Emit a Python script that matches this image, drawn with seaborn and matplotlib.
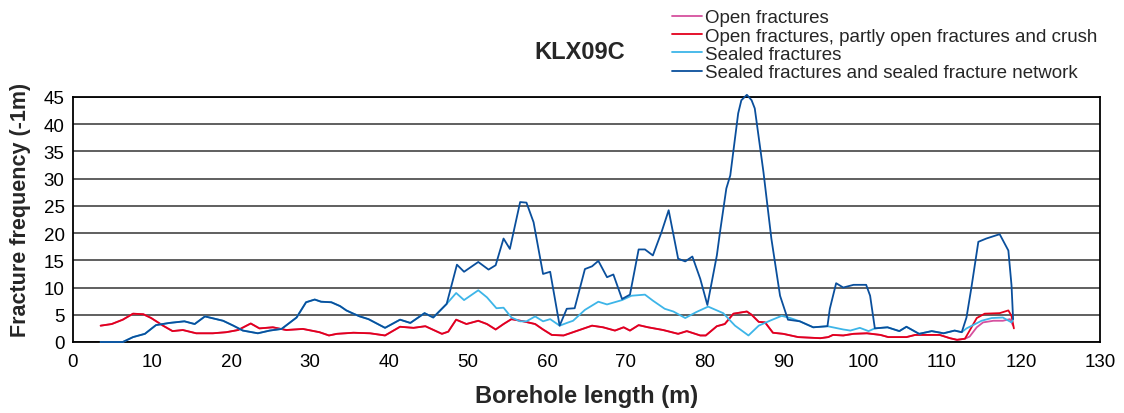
import numpy as np
import pandas as pd
import matplotlib as mpl
mpl.use('Agg')
import matplotlib.pyplot as plt
import seaborn as sns

sns.set_theme(style='white')
plt.rcParams['font.family'] = ['Liberation Sans', 'DejaVu Sans']

# borehole length (m) / fracture frequency (1/m)
network_depth = [3.5, 6.3, 7.6, 9.1, 10.5, 12.2, 14.1, 15.4, 16.7, 19.0, 20.3, 21.5, 23.4, 24.9,
                 26.4, 28.3, 29.5, 30.6, 31.4, 32.7, 33.8, 34.6, 35.5, 36.3, 37.4, 39.5, 41.4,
                 42.7, 44.5, 45.6, 47.3, 48.6, 49.5, 51.3, 52.6, 53.5, 54.5, 55.3, 56.6, 57.4,
                 58.3, 59.5, 60.4, 61.6, 62.5, 63.5, 64.8, 65.7, 66.5, 67.6, 68.4, 69.5, 70.5,
                 71.6, 72.4, 73.4, 74.5, 75.4, 76.6, 77.5, 78.4, 79.4, 80.3, 81.5, 81.9, 82.7,
                 83.2, 84.2, 84.6, 85.3, 85.9, 86.3, 87.4, 88.4, 89.5, 90.5, 92.0, 93.7, 95.5,
                 95.8, 96.6, 97.5, 98.8, 100.4, 100.9, 101.5, 103.1, 104.6, 105.5, 107.1, 108.7,
                 110.2, 111.6, 112.5, 113.1, 113.7, 114.6, 115.6, 117.3, 118.4, 118.8, 119.0]
network_freq = [0.0, 0.0, 0.9, 1.5, 3.1, 3.5, 3.8, 3.3, 4.7, 3.9, 3.0, 2.1, 1.6, 2.1,
                2.4, 4.5, 7.3, 7.8, 7.4, 7.3, 6.6, 5.8, 5.2, 4.7, 4.2, 2.6, 4.1,
                3.5, 5.3, 4.5, 7.0, 14.2, 12.9, 14.7, 13.3, 14.1, 19.0, 17.1, 25.7, 25.6,
                22.0, 12.5, 12.9, 3.0, 6.1, 6.2, 13.4, 13.9, 14.9, 11.9, 12.4, 7.9, 8.7,
                17.0, 17.0, 15.9, 20.2, 24.2, 15.3, 14.8, 15.7, 11.6, 6.8, 15.9, 20.2, 28.2,
                30.6, 42.0, 44.4, 45.4, 44.4, 42.9, 31.2, 19.0, 8.5, 4.1, 3.8, 2.7, 2.9,
                6.1, 10.8, 10.0, 10.5, 10.5, 8.5, 2.5, 2.7, 2.0, 2.8, 1.5, 2.0,
                1.6, 2.1, 1.8, 4.5, 9.8, 18.4, 19.0, 19.8, 16.8, 10.4, 4.2]

sealed_depth = [3.5, 6.3, 7.6, 9.1, 10.5, 12.2, 14.1, 15.4, 16.7, 19.0, 20.3, 21.5, 23.4, 24.9,
                26.4, 28.3, 29.5, 30.6, 31.4, 32.7, 33.8, 34.6, 35.5, 36.3, 37.4, 39.5, 41.4,
                42.7, 44.5, 45.6, 47.3, 48.5, 49.5, 51.3, 52.4, 53.6, 54.5, 55.5, 56.6, 57.4,
                58.5, 59.5, 60.4, 61.6, 62.7, 63.3, 64.8, 66.5, 67.6, 69.5, 70.7, 72.4, 73.4,
                74.9, 76.0, 77.5, 78.9, 80.4, 82.3, 83.8, 85.5, 86.8, 88.2, 89.7, 90.8, 92.0,
                93.7, 95.5, 97.5, 98.4, 99.6, 100.7, 101.5, 103.1, 104.6, 105.5, 107.1, 108.7,
                110.2, 111.6, 112.5, 113.1, 114.2, 115.0, 116.3, 117.7, 118.8, 119.0]
sealed_freq = [0.0, 0.0, 0.9, 1.5, 3.1, 3.5, 3.8, 3.3, 4.7, 3.9, 3.0, 2.1, 1.6, 2.1,
               2.4, 4.5, 7.3, 7.8, 7.4, 7.3, 6.6, 5.8, 5.2, 4.7, 4.2, 2.6, 4.1,
               3.5, 5.3, 4.5, 7.0, 9.0, 7.7, 9.5, 8.2, 6.2, 6.3, 4.5, 3.8, 3.8,
               4.7, 3.8, 4.2, 3.0, 3.6, 3.9, 5.9, 7.4, 6.9, 7.7, 8.5, 8.7, 7.6,
               6.1, 5.6, 4.4, 5.5, 6.5, 5.3, 3.0, 1.2, 3.0, 3.9, 4.8, 4.4, 3.8,
               2.7, 2.9, 2.3, 2.1, 2.6, 2.0, 2.5, 2.7, 2.0, 2.8, 1.5, 2.0,
               1.6, 2.1, 1.8, 2.5, 3.3, 3.9, 4.4, 4.5, 3.6, 4.2]

crush_depth = [3.5, 4.9, 6.3, 7.6, 8.9, 9.9, 11.4, 12.6, 13.9, 15.6, 17.7, 19.4, 20.9, 22.5,
               23.6, 25.3, 27.0, 29.1, 31.2, 32.4, 33.4, 35.5, 37.6, 39.5, 41.4, 43.1, 44.6,
               46.7, 47.5, 48.5, 49.8, 51.3, 52.4, 53.5, 54.5, 55.5, 57.0, 58.5, 59.5, 60.6,
               62.1, 63.3, 65.7, 67.1, 68.6, 69.7, 70.5, 71.6, 72.8, 74.7, 76.6, 77.7, 79.4,
               80.1, 81.5, 82.5, 83.6, 85.3, 85.9, 86.8, 87.6, 88.6, 89.9, 91.8, 94.6, 95.6,
               96.2, 97.5, 98.8, 100.5, 102.2, 103.2, 105.5, 106.6, 109.7, 111.0, 111.9, 112.9,
               113.5, 114.4, 115.4, 117.3, 118.4, 118.8, 119.1]
crush_freq = [3.0, 3.3, 4.1, 5.2, 5.1, 4.4, 3.0, 2.0, 2.2, 1.6, 1.6, 1.8, 2.2, 3.4,
              2.5, 2.7, 2.2, 2.4, 1.8, 1.2, 1.5, 1.7, 1.6, 1.2, 2.8, 2.6, 2.9,
              1.5, 1.9, 4.1, 3.3, 3.9, 3.3, 2.3, 3.3, 4.2, 3.8, 3.3, 2.3, 1.3,
              1.2, 1.8, 3.0, 2.7, 2.1, 2.7, 2.1, 3.1, 2.7, 2.2, 1.5, 2.0, 1.2,
              1.2, 2.9, 3.3, 5.2, 5.6, 5.0, 3.7, 3.6, 1.7, 1.5, 0.9, 0.7, 0.9,
              1.3, 1.2, 1.5, 1.6, 1.3, 0.9, 0.9, 1.3, 1.3, 0.7, 0.4, 0.6,
              2.1, 4.4, 5.2, 5.3, 5.8, 4.8, 2.5]

# open fractures follow the crush curve up to ~113 m, then split off
open_depth = crush_depth[:-7] + [113.5, 114.4, 115.2, 116.5, 117.7, 118.6, 119.0]
open_freq = crush_freq[:-7] + [1.0, 2.7, 3.6, 3.9, 3.9, 4.2, 3.0]

labels = ['Open fractures',
          'Open fractures, partly open fractures and crush',
          'Sealed fractures',
          'Sealed fractures and sealed fracture network']
colors = ['#d6509e', '#e3001b', '#3db5e8', '#0a4f9c']

df = pd.concat([
    pd.DataFrame({'depth': open_depth, 'freq': open_freq, 'series': labels[0]}),
    pd.DataFrame({'depth': crush_depth, 'freq': crush_freq, 'series': labels[1]}),
    pd.DataFrame({'depth': sealed_depth, 'freq': sealed_freq, 'series': labels[2]}),
    pd.DataFrame({'depth': network_depth, 'freq': network_freq, 'series': labels[3]}),
], ignore_index=True)

fig = plt.figure(figsize=(11.24, 4.14), dpi=100)
ax = fig.add_axes([73 / 1124, 71 / 414, 1027 / 1124, 245 / 414])

sns.lineplot(data=df, x='depth', y='freq', hue='series', hue_order=labels,
             palette=colors, sort=False, estimator=None, linewidth=1.3, ax=ax)
# keep the zero stretch visible on top of the bottom spine
for line in ax.lines:
    line.set_clip_on(False)
    line.set_zorder(3)

ax.set_xlim(0, 130)
ax.set_ylim(0, 45)
ax.set_xticks(np.arange(0, 131, 10))
ax.set_yticks(np.arange(0, 46, 5))
ax.yaxis.grid(True, color='#444444', linewidth=1.2)
ax.xaxis.grid(False)
for s in ax.spines.values():
    s.set_color('black')
    s.set_linewidth(1.3)
ax.tick_params(axis='both', labelsize=13.5, colors='black', direction='out',
               length=5, width=1.2, pad=3)
ax.tick_params(axis='y', length=0, pad=6)

ax.set_xlabel('Borehole length (m)', fontsize=17, fontweight='bold', labelpad=10)
ax.set_ylabel('Fracture frequency (-1m)', fontsize=15.5, fontweight='bold')
ax.yaxis.set_label_coords(-0.041, 0.543)

fig.text(0.516, 0.872, 'KLX09C', fontsize=17, fontweight='bold', ha='center', va='center')

ax.legend(loc='upper left', bbox_to_anchor=(672 / 1124, 0.975), bbox_transform=fig.transFigure,
          frameon=False, fontsize=13.5, handlelength=1.6, handletextpad=0.15,
          labelspacing=0.06, borderpad=0, borderaxespad=0)

fig.savefig('out.png', dpi=100)
